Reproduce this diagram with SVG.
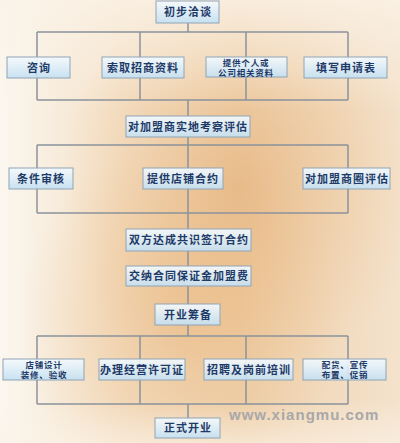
<svg xmlns="http://www.w3.org/2000/svg" width="400" height="443" viewBox="0 0 400 443">
<defs>
<linearGradient id="bgH" x1="0" y1="0" x2="1" y2="0">
<stop offset="0" stop-color="#fbf7f0"/>
<stop offset="0.3" stop-color="#f4e0c6"/>
<stop offset="0.6" stop-color="#efd2ae"/>
<stop offset="1" stop-color="#f4e2cc"/>
</linearGradient>
<radialGradient id="warm1" cx="0.6" cy="0.42" r="0.45">
<stop offset="0" stop-color="#e0a060" stop-opacity="0.45"/>
<stop offset="1" stop-color="#e8b070" stop-opacity="0"/>
</radialGradient>
<radialGradient id="warm2" cx="0.45" cy="0.72" r="0.4">
<stop offset="0" stop-color="#e6a866" stop-opacity="0.4"/>
<stop offset="1" stop-color="#e8b070" stop-opacity="0"/>
</radialGradient>
<linearGradient id="fadeTop" x1="0" y1="0" x2="0" y2="1">
<stop offset="0" stop-color="#fbf3e8" stop-opacity="0.8"/>
<stop offset="0.25" stop-color="#fbf3e8" stop-opacity="0"/>
<stop offset="0.9" stop-color="#fbf3e8" stop-opacity="0"/>
<stop offset="1" stop-color="#fbf3e8" stop-opacity="0.6"/>
</linearGradient>
<linearGradient id="box" x1="0" y1="0" x2="0" y2="1">
<stop offset="0" stop-color="#f4fafe"/>
<stop offset="1" stop-color="#c4e0f2"/>
</linearGradient>
</defs>
<style>
.box{fill:url(#box);fill-opacity:0.92;stroke:#8fa4b6;stroke-width:1}
.t{font-family:"Noto Sans CJK SC","Noto Sans",sans-serif;font-weight:bold;font-size:11px;fill:#1e3a68;text-anchor:middle;letter-spacing:1px}
.s{font-family:"Liberation Sans","Noto Sans CJK SC",sans-serif;font-size:8.5px;letter-spacing:0.8px}
.ln{fill:none;stroke:#8a939c;stroke-width:1.5}
.wm{font-family:"Liberation Sans",Arial,sans-serif;font-weight:bold;font-size:15px;fill:#a8a8a8;letter-spacing:1px}
</style>
<rect width="400" height="443" fill="url(#bgH)"/>
<rect width="400" height="443" fill="url(#warm1)"/>
<rect width="400" height="443" fill="url(#warm2)"/>
<rect width="400" height="443" fill="url(#fadeTop)"/>
<text class="wm" x="229" y="420">www.xiangmu.com</text>
<g id="connectors">
<path class="ln" d="M188 23V32M37 32H348M37 32V100M140 32V100M246 32V100M348 32V100M37 100H348M188 100V116"/>
<path class="ln" d="M188 137V145M37 145H348M37 145V213M188 145V213M348 145V213M37 213H348M188 213V229"/>
<path class="ln" d="M188 251V266M188 286V304M188 325V336"/>
<path class="ln" d="M37 336H348M37 336V404M140 336V404M246 336V404M348 336V404M37 404H348M188 404V418"/>
</g>
<g id="n1"><rect class="box" x="156" y="1" width="63" height="22"/><text class="t" x="188" y="16">初步洽谈</text></g>
<g id="n2"><rect class="box" x="7" y="57" width="63" height="21"/><text class="t" x="39" y="72">咨询</text></g>
<g id="n3"><rect class="box" x="102" y="57" width="82" height="21"/><text class="t" x="143" y="72">索取招商资料</text></g>
<g id="n4"><rect class="box" x="206" y="57" width="81" height="20"/><text class="t s" x="246" y="65.8">提供个人或</text><text class="t s" x="246" y="75.6">公司相关资料</text></g>
<g id="n5"><rect class="box" x="304" y="57" width="83" height="21"/><text class="t" x="346" y="72">填写申请表</text></g>
<g id="n6"><rect class="box" x="126" y="116" width="124" height="21"/><text class="t" x="188" y="131">对加盟商实地考察评估</text></g>
<g id="n7"><rect class="box" x="9" y="168" width="64" height="21"/><text class="t" x="41" y="183">条件审核</text></g>
<g id="n8"><rect class="box" x="143" y="168" width="80" height="21"/><text class="t" x="183" y="183">提供店铺合约</text></g>
<g id="n9"><rect class="box" x="303" y="168" width="87" height="21"/><text class="t" x="347" y="183">对加盟商圈评估</text></g>
<g id="n10"><rect class="box" x="126" y="229" width="125" height="22"/><text class="t" x="189" y="244">双方达成共识签订合约</text></g>
<g id="n11"><rect class="box" x="126" y="266" width="125" height="20"/><text class="t" x="189" y="280">交纳合同保证金加盟费</text></g>
<g id="n12"><rect class="box" x="155" y="304" width="65" height="21"/><text class="t" x="188" y="319">开业筹备</text></g>
<g id="n13"><rect class="box" x="3" y="359" width="81" height="21"/><text class="t s" x="44" y="367.8">店铺设计</text><text class="t s" x="44" y="377.6">装修、验收</text></g>
<g id="n14"><rect class="box" x="99" y="359" width="86" height="21"/><text class="t" x="142" y="374">办理经营许可证</text></g>
<g id="n15"><rect class="box" x="204" y="359" width="89" height="21"/><text class="t" x="249" y="374">招聘及岗前培训</text></g>
<g id="n16"><rect class="box" x="303" y="359" width="83" height="21"/><text class="t s" x="345" y="367.8">配货、宣传</text><text class="t s" x="345" y="377.6">布置、促销</text></g>
<g id="n17"><rect class="box" x="155" y="418" width="65" height="20"/><text class="t" x="188" y="432">正式开业</text></g>
</svg>
